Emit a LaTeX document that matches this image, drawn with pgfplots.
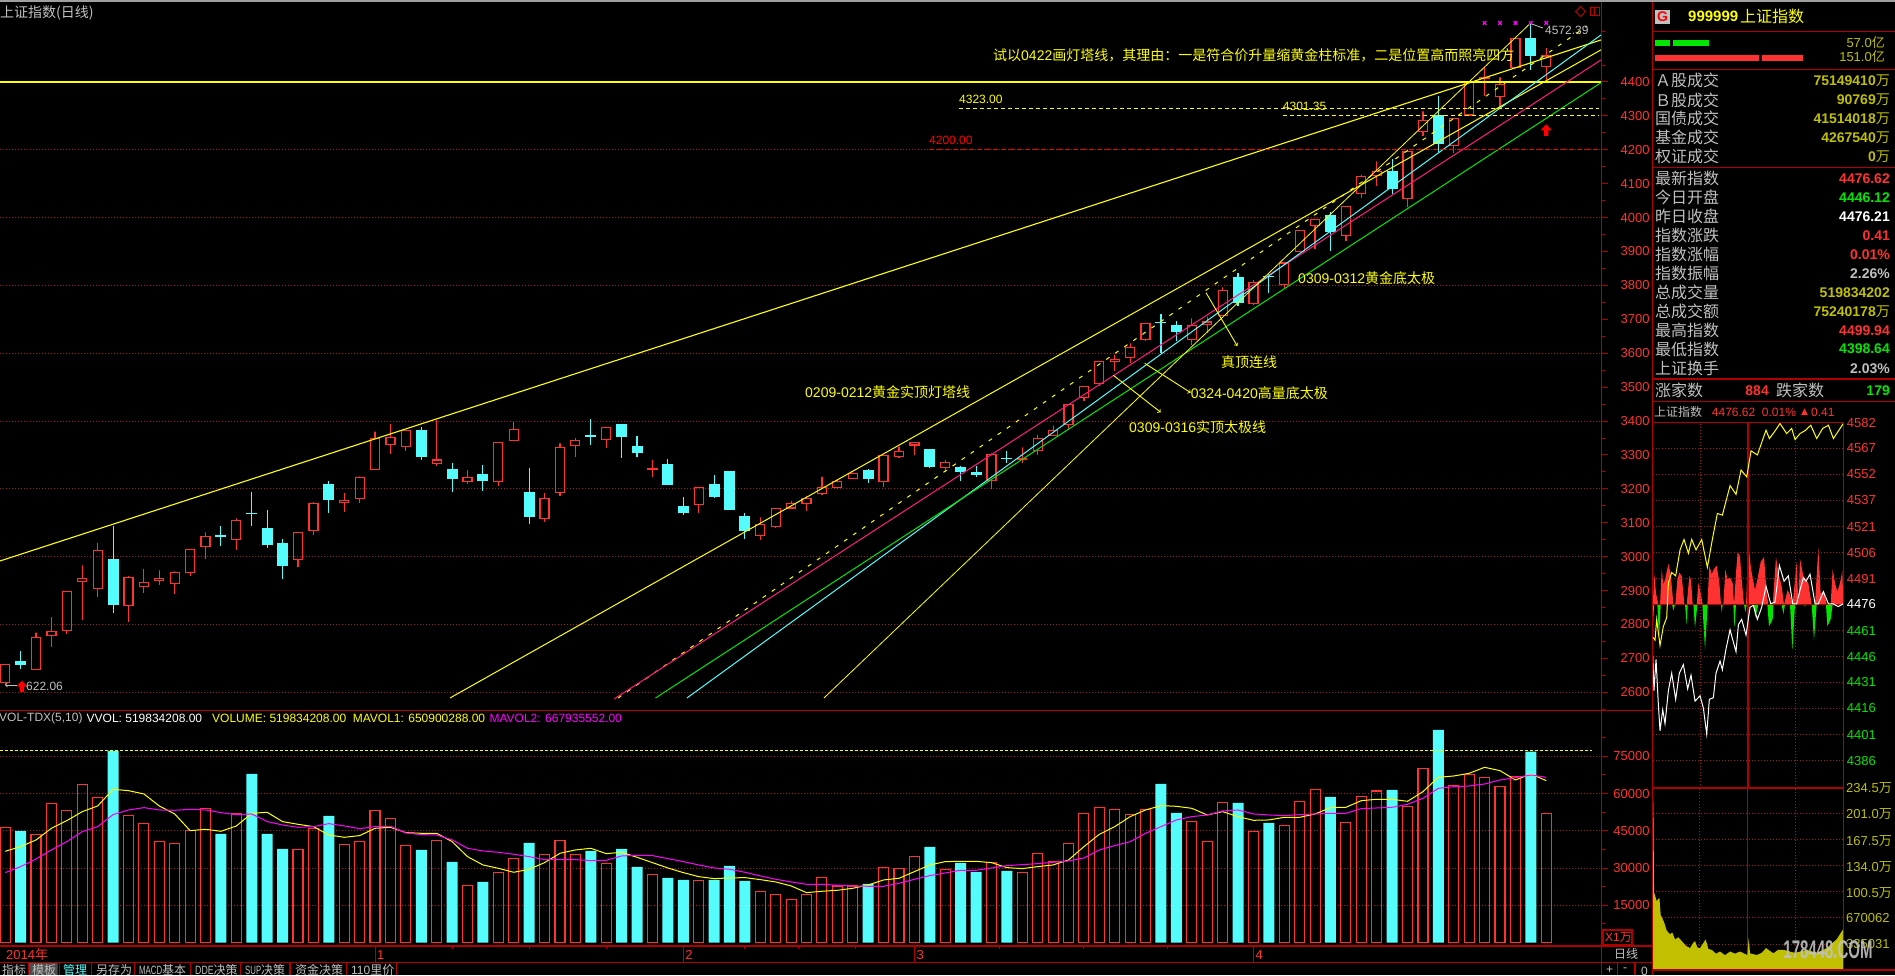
\documentclass[border=0pt]{standalone}
\usepackage{fontspec}
\usepackage{pgfplots}
\usepackage{pgfplotstable}
\pgfplotsset{compat=1.18}
\setmainfont{Liberation Sans}
\newfontfamily\cjk{Noto Sans CJK SC}
\newfontfamily\symb{DejaVu Sans}

\definecolor{upc}{HTML}{FF3232}
\definecolor{cy}{HTML}{54FCFC}
\definecolor{yl}{HTML}{FFFF00}
\definecolor{mg}{HTML}{FF00FF}
\definecolor{ol}{HTML}{C0C000}
\definecolor{gr}{HTML}{00E600}
\definecolor{pk}{HTML}{FF1A80}
\definecolor{framec}{HTML}{B00000}
\definecolor{gridc}{HTML}{A81818}
\definecolor{wg}{HTML}{C0C0C0}

\pgfdeclareplotmark{redarrow}{%
  \pgfpathmoveto{\pgfqpoint{0pt}{6.5pt}}
  \pgfpathlineto{\pgfqpoint{5.5pt}{0.5pt}}
  \pgfpathlineto{\pgfqpoint{2.2pt}{0.5pt}}
  \pgfpathlineto{\pgfqpoint{2.2pt}{-5pt}}
  \pgfpathlineto{\pgfqpoint{-2.2pt}{-5pt}}
  \pgfpathlineto{\pgfqpoint{-2.2pt}{0.5pt}}
  \pgfpathlineto{\pgfqpoint{-5.5pt}{0.5pt}}
  \pgfpathclose\pgfusepathqfill}

\pgfplotsset{
  tick13/.style={tick label style={font=\fontsize{13}{13}\selectfont,text=upc}},
  panel/.style={scale only axis, axis line style={draw=none}, tick style={framec,line width=1pt},
    scaled ticks=false, tick align=outside, major tick length=6pt, minor tick length=3pt,
    /pgf/number format/.cd, fixed, 1000 sep={}, assume math mode=true},
  griddots/.style={major grid style={gridc,line width=.8pt,dash pattern=on 1pt off 2pt}},
}

% candle: i, open, high, low, close
\newcommand\up[5]{%
  \pgfmathsetmacro\xa{#1-.292}\pgfmathsetmacro\xb{#1+.292}%
  \addplot[upc,line width=1.2pt,no markers,miter limit=2] coordinates {(#1,#4)(#1,#2)(\xa,#2)(\xa,#5)(#1,#5)(#1,#3)(#1,#5)(\xb,#5)(\xb,#2)(#1,#2)};}
\newcommand\dn[5]{%
  \pgfmathsetmacro\xa{#1-.357}\pgfmathsetmacro\xb{#1+.357}%
  \addplot[cy,line width=1.1pt,no markers] coordinates {(#1,#4)(#1,#3)};%
  \addplot[fill=cy,draw=none,no markers] coordinates {(\xa,#2)(\xb,#2)(\xb,#5)(\xa,#5)};}

% volume, i and value
\pgfplotstableread{
i v
0 46433
2 43615
3 56096
4 53277
5 63745
6 58511
8 51264
9 48044
10 40797
11 39992
12 45225
13 54083
15 51801
19 37576
20 46031
22 39589
23 40797
24 53277
25 50057
26 39186
28 41199
30 23082
32 28316
33 33953
35 35563
36 41199
37 35563
39 31940
42 27511
45 25095
49 20667
50 19459
51 17446
52 19459
53 26303
54 22814
55 22814
57 30329
58 29927
59 34758
61 29524
64 32342
66 28316
67 35966
68 32745
69 39992
70 52070
71 54485
72 53680
73 51667
74 53680
77 48849
78 40797
79 56498
81 44823
83 47238
84 56901
85 61732
87 48446
88 58914
89 61061
91 54888
92 70187
94 63342
95 67771
96 66563
97 62940
98 66832
100 52070
}\upvol
\pgfplotstableread{
i v
1 44957
7 77165
14 43749
16 67905
17 43749
18 37710
21 50996
27 37308
29 32476
31 24424
34 40126
38 36905
40 37710
41 30463
43 26035
44 25230
46 25230
47 30866
48 24827
56 23619
60 38515
62 32074
63 28450
65 28853
75 63879
76 52204
80 56230
82 48178
86 58645
90 61464
93 85620
99 76897
}\dnvol

\begin{document}
\begin{tikzpicture}
\useasboundingbox (0pt,0pt) rectangle (1895pt,975pt);
\fill[black] (0pt,0pt) rectangle (1895pt,975pt);
\clip (0pt,0pt) rectangle (1895pt,975pt);

% price panel
\begin{axis}[panel,tick13,griddots,at={(0pt,265pt)},anchor=south west,width=1601.7pt,height=707pt,
  xmin=-.3375,xmax=103.6,ymin=2547.8,ymax=4633,xtick=\empty,
  ytick pos=right,ytick={2600,2800,...,4400},ymajorgrids,
  extra y ticks={2700,2900,...,4300},extra y tick style={grid=none},
  minor ytick={2550,2650,...,4550},
  yticklabel style={anchor=east,inner sep=0pt,xshift=42pt}]
\up{0}{2628.4}{2682.5}{2622}{2682.5}
\dn{1}{2692.3}{2721.8}{2669.7}{2680.5}
\up{2}{2667.7}{2775.9}{2667.7}{2762.1}
\up{3}{2767}{2822}{2734.6}{2779.8}
\up{4}{2782.8}{2897.8}{2773}{2897.8}
\up{5}{2926.3}{2974.5}{2813.2}{2936.1}
\up{6}{2905.6}{3040.3}{2881.1}{3018.7}
\dn{7}{2993.1}{3091.4}{2834.9}{2857.5}
\up{8}{2855.5}{2943}{2808.3}{2939}
\up{9}{2911.5}{2963.6}{2893.8}{2924.3}
\up{10}{2929.2}{2959.7}{2917.4}{2936.1}
\up{11}{2920.4}{2956.8}{2890.9}{2953.8}
\up{12}{2952.8}{3021.6}{2944}{3021.6}
\up{13}{3029.5}{3071.8}{2993.1}{3060}
\dn{14}{3063.9}{3090.4}{3031.5}{3058}
\up{15}{3050.1}{3113.1}{3019.7}{3107.2}
\dn{16}{3129.8}{3190.7}{3090.4}{3125.8}
\dn{17}{3084.5}{3137.6}{3026.5}{3034.4}
\dn{18}{3040.3}{3052.1}{2934.1}{2972.5}
\up{19}{2991.2}{3071.8}{2970.5}{3071.8}
\up{20}{3076.7}{3161.2}{3063.9}{3157.3}
\dn{21}{3214.3}{3223.1}{3128.8}{3167.1}
\up{22}{3159.3}{3187.8}{3131.7}{3166.1}
\up{23}{3171.1}{3236.9}{3158.3}{3234}
\up{24}{3256.6}{3368.6}{3256.6}{3349}
\up{25}{3330.3}{3391.2}{3302.8}{3351.9}
\up{26}{3324.4}{3373.6}{3311.6}{3372.6}
\dn{27}{3373.6}{3382.4}{3285.1}{3293.9}
\up{28}{3274.3}{3403}{3267.4}{3285.1}
\dn{29}{3258.5}{3275.3}{3190.7}{3229}
\up{30}{3221.2}{3255.6}{3214.3}{3234}
\dn{31}{3243.8}{3270.3}{3193.7}{3223.1}
\up{32}{3221.2}{3337.2}{3208.4}{3337.2}
\up{33}{3342.1}{3397.1}{3342.1}{3375.5}
\dn{34}{3190.7}{3261.5}{3096.3}{3117}
\up{35}{3112.1}{3187.8}{3102.2}{3172}
\up{36}{3188.7}{3334.2}{3179.9}{3322.4}
\up{37}{3327.3}{3350}{3293.9}{3343.1}
\dn{38}{3357.8}{3406}{3329.3}{3353.9}
\up{39}{3345}{3381.4}{3320.5}{3381.4}
\dn{40}{3391.2}{3391.2}{3291}{3352.9}
\dn{41}{3326.5}{3356}{3295}{3305.8}
\up{42}{3256.7}{3285.2}{3236}{3260.6}
\dn{43}{3273.4}{3288.1}{3212.4}{3212.4}
\dn{44}{3149.5}{3175.1}{3123}{3128.9}
\up{45}{3153.5}{3204.6}{3129.9}{3204.6}
\dn{46}{3214.4}{3240}{3173.1}{3176}
\dn{47}{3252.7}{3252.7}{3137.7}{3137.7}
\dn{48}{3120}{3128.9}{3053.2}{3075.8}
\up{49}{3062}{3116.1}{3050}{3095.5}
\up{50}{3088.6}{3142.6}{3086.6}{3142.6}
\up{51}{3143.6}{3164.3}{3143.6}{3157.4}
\up{52}{3157.4}{3179}{3135.8}{3172.1}
\up{53}{3186.9}{3235}{3182}{3204.6}
\up{54}{3203.6}{3226.2}{3198.7}{3222.3}
\up{55}{3230.1}{3247.8}{3230.1}{3245.9}
\dn{56}{3255.7}{3259.6}{3218.3}{3229.1}
\up{57}{3221.3}{3300.9}{3204.6}{3298.9}
\up{58}{3295}{3324.5}{3292.1}{3310.7}
\up{59}{3329.4}{3336.3}{3300.9}{3336.3}
\dn{60}{3317.6}{3317.6}{3261.6}{3264.5}
\up{61}{3262.6}{3285.2}{3250.8}{3278.3}
\dn{62}{3264.5}{3267.5}{3224.2}{3250.8}
\dn{63}{3249.8}{3267.5}{3235}{3241.9}
\up{64}{3225.2}{3304.8}{3199.7}{3301.9}
\dn{65}{3291.1}{3310.7}{3276.3}{3288.1}
\up{66}{3287.1}{3322.5}{3276.3}{3290.1}
\up{67}{3312.7}{3358.9}{3299.9}{3349.1}
\up{68}{3357}{3387.4}{3357}{3372.7}
\up{69}{3389.4}{3449.3}{3376.6}{3449.3}
\up{70}{3470}{3502.4}{3460.2}{3502.4}
\up{71}{3510.3}{3576.1}{3503.4}{3576.1}
\up{72}{3576.1}{3595.8}{3546.7}{3582}
\up{73}{3587}{3629.2}{3570.3}{3617.4}
\up{74}{3640}{3688.2}{3638}{3688.2}
\dn{75}{3692.1}{3715.7}{3599.7}{3688.2}
\dn{76}{3683.3}{3694.1}{3637.1}{3662.6}
\up{77}{3640}{3703}{3624.3}{3682.3}
\up{78}{3685.3}{3707.9}{3658.7}{3692.1}
\up{79}{3711}{3794.4}{3711}{3785.5}
\dn{80}{3825}{3836}{3739}{3748}
\up{81}{3746}{3816}{3742}{3809}
\dn{82}{3828}{3836}{3779}{3826}
\up{83}{3802}{3866}{3793}{3866}
\up{84}{3901}{3963}{3901}{3963}
\up{85}{3977}{3995}{3906}{3995}
\dn{86}{4008}{4016}{3902}{3959}
\up{87}{3948}{4033}{3932}{4033}
\up{88}{4070.7}{4126}{4059}{4122}
\up{89}{4124.7}{4166}{4094}{4136.5}
\dn{90}{4136.5}{4174}{4070}{4084.4}
\up{91}{4056}{4195.5}{4030}{4195.5}
\up{92}{4253.5}{4313.5}{4241.7}{4287}
\dn{93}{4301.7}{4358.7}{4192.6}{4217}
\up{94}{4212}{4292.8}{4190.6}{4292.8}
\up{95}{4302.7}{4400}{4302.7}{4400}
\up{96}{4409.8}{4445}{4359.7}{4413.7}
\up{97}{4356.7}{4413.7}{4322}{4393}
\up{98}{4442}{4528.8}{4442}{4528.8}
\dn{99}{4529.7}{4572.39}{4435.4}{4477.6}
\up{100}{4446.12}{4499.94}{4398.64}{4476.62}
% drawn lines
\addplot[yl,line width=1.3pt] coordinates {(-.34,4400)(103.6,4400)};
\addplot[yl,line width=1.1pt] coordinates {(-.34,2987.3)(103.62,4525)};
\addplot[yl,line width=1pt] coordinates {(28.86,2583.2)(103.62,4496.4)};
\addplot[yl,line width=1pt,dash pattern=on 4pt off 7pt] coordinates {(39.77,2583.2)(102.65,4565.2)};
\addplot[pk,line width=1pt] coordinates {(39.51,2580.3)(103.55,4464.9)};
\addplot[cy,line width=1pt] coordinates {(44.24,2583.2)(103.55,4538.6)};
\addplot[gr,line width=1pt] coordinates {(42.2,2583.2)(103.55,4397.9)};
\addplot[yl,line width=.8pt] coordinates {(53.13,2583.2)(99.06,4577)};
\addplot[yl,line width=1pt,dash pattern=on 4pt off 3pt] coordinates {(61.9,4323)(103.4,4323)};
\addplot[yl,line width=1pt,dash pattern=on 4pt off 3pt] coordinates {(82.9,4301.35)(103.4,4301.35)};
\addplot[red,line width=1pt,dash pattern=on 5pt off 3pt] coordinates {(59.95,4200)(103.6,4200)};
\addplot[only marks,mark=x,mg,mark size=2.5pt,line width=1.2pt] coordinates {(96,4574)(97,4574)(98,4574)(99,4574)(100,4574)};
\addplot[only marks,mark=redarrow,red] coordinates {(100,4256)(1.09,2615)};
\end{axis}

% volume panel
\begin{axis}[panel,tick13,griddots,at={(0pt,29pt)},anchor=south west,width=1601.7pt,height=236pt,
  xmin=-.3375,xmax=103.6,ymin=-1369,ymax=93668,xtick=\empty,
  ytick pos=right,ytick={15000,30000,45000,60000,75000},ymajorgrids,
  minor ytick={7500,22500,37500,52500,67500,82500},
  yticklabel style={anchor=east,inner sep=0pt,xshift=42pt}]
\addplot[ybar,bar width=10pt,bar shift=0pt,draw=upc,fill=none,line width=1.1pt] table[x=i,y=v] {\upvol};
\addplot[ybar,bar width=11pt,bar shift=0pt,draw=none,fill=cy] table[x=i,y=v] {\dnvol};
\addplot[yl,line width=1pt,dash pattern=on 3pt off 2pt] coordinates {(-.34,77350)(103,77350)};
\addplot[yl,line width=1pt] coordinates {(0,36771)(1,38650)(2,41334)(3,46031)(4,49117)(5,52741)(6,55022)(7,61732)(8,61195)(9,59853)(10,55022)(11,51801)(12,45091)(13,45628)(14,44823)(15,46970)(16,52070)(17,52472)(18,48715)(19,47641)(20,46702)(21,43347)(22,42407)(23,43078)(24,46031)(25,46433)(26,44286)(27,44018)(28,44018)(29,40663)(30,34624)(31,31269)(32,29927)(33,28316)(34,29524)(35,32208)(36,35966)(37,37308)(38,37979)(39,35831)(40,36368)(41,34355)(42,32208)(43,30061)(44,28182)(45,26572)(46,25766)(47,26035)(48,26169)(49,25364)(50,24424)(51,22814)(52,20130)(53,20667)(54,21069)(55,21875)(56,23217)(57,25230)(58,25901)(59,28585)(60,31269)(61,32611)(62,32745)(63,32745)(64,32208)(65,30195)(66,29792)(67,30598)(68,31269)(69,33282)(70,38650)(71,43615)(72,46702)(73,50728)(74,53412)(75,55156)(76,54888)(77,54083)(78,51399)(79,52741)(80,50728)(81,49251)(82,49386)(83,50459)(84,50459)(85,51801)(86,54351)(87,54485)(88,57169)(89,57706)(90,57706)(91,56901)(92,60793)(93,66563)(94,67100)(95,68174)(96,70589)(97,69247)(98,65490)(99,67905)(100,65221)};
\addplot[mg,line width=1pt] coordinates {(0,28182)(1,30598)(2,33684)(3,37308)(4,40663)(5,44689)(6,46702)(7,51533)(8,53412)(9,54351)(10,53412)(11,53277)(12,53680)(13,53412)(14,52338)(15,51533)(16,51801)(17,48715)(18,47373)(19,46433)(20,46702)(21,47909)(22,46970)(23,45896)(24,46702)(25,46836)(26,44152)(27,43481)(28,43347)(29,41334)(30,37979)(31,36905)(32,36368)(33,35563)(34,34624)(35,33416)(36,33416)(37,33416)(38,33013)(39,33147)(40,34892)(41,35160)(42,35026)(43,33818)(44,32611)(45,31269)(46,30061)(47,29524)(48,28316)(49,26840)(50,25498)(51,24424)(52,23485)(53,23485)(54,23082)(55,22814)(56,22680)(57,22680)(58,23888)(59,25498)(60,26974)(61,28048)(62,29121)(63,29121)(64,30061)(65,31000)(66,31403)(67,31805)(68,32342)(69,32879)(70,34087)(71,37308)(72,39052)(73,40663)(74,44018)(75,46702)(76,49386)(77,50728)(78,51399)(79,53009)(80,53412)(81,51801)(82,51399)(83,51130)(84,51533)(85,51801)(86,52070)(87,52070)(88,53948)(89,54217)(90,54485)(91,55693)(92,58109)(93,62135)(94,62806)(95,63074)(96,63879)(97,65490)(98,66429)(99,67503)(100,66563)};
\end{axis}

% date strip under the volume panel
\begin{axis}[panel,at={(0pt,13pt)},anchor=south west,width=1601.7pt,height=16pt,
  xmin=-.3375,xmax=103.6,ymin=0,ymax=1,ytick=\empty,
  xtick pos=top,xticklabel pos=bottom,tick align=inside,
  major tick length=16pt,minor tick length=3pt,
  xtick={24,44,59,81},xticklabels={1,2,3,4},
  minor xtick={29,34,39,48,51.5,55.2,64.5,70,75.4},
  xticklabel style={font=\fontsize{13}{13}\selectfont,text=upc,anchor=west,inner sep=0pt,xshift=2pt,yshift=7pt}]
\end{axis}

% intraday strength bars
\begin{axis}[scale only axis,hide axis,at={(1652.7pt,187pt)},anchor=south west,width=190.6pt,height=365.7pt,
  xmin=38,xmax=610,ymin=-528,ymax=524]
\addplot[fill=upc,draw=none] coordinates {(38,0)(43,87)(48,32)(55,0)(60,0)(65,102)(70,57)(75,72)(85,117)(92,87)(100,2)(106,2)(112,72)(118,92)(125,82)(133,0)(140,0)(148,82)(153,72)(158,0)(170,0)(175,62)(182,32)(188,0)(202,0)(208,112)(215,87)(222,102)(230,112)(238,62)(243,0)(250,0)(256,102)(262,72)(270,77)(278,62)(282,0)(288,92)(293,152)(300,137)(305,72)(312,0)(318,0)(325,177)(333,102)(345,42)(352,72)(362,122)(372,137)(380,32)(385,0)(398,0)(408,137)(415,92)(425,52)(432,0)(443,42)(452,22)(458,0)(470,122)(475,0)(480,132)(490,82)(505,62)(515,0)(525,0)(535,164)(542,32)(552,37)(560,0)(572,0)(578,102)(585,62)(592,37)(600,62)(607,97)(610,0)} \closedcycle;
\addplot[fill=gr,draw=none] coordinates {(38,-78)(42,0)(52,0)(57,-98)(62,0)(96,0)(100,-18)(105,0)(135,0)(140,-58)(143,0)(160,0)(165,-68)(172,0)(187,0)(195,-130)(203,0)(243,0)(245,-23)(248,0)(280,0)(283,-68)(288,0)(312,0)(316,-23)(320,0)(340,0)(346,-38)(355,0)(382,0)(387,-63)(398,-43)(400,0)(425,0)(430,-28)(435,0)(450,0)(457,-133)(465,0)(493,0)(495,-8)(497,0)(515,0)(522,-103)(530,0)(558,0)(562,-63)(572,-43)(578,0)} \closedcycle;
\end{axis}

% intraday price
\begin{axis}[panel,griddots,at={(1652.7pt,187pt)},anchor=south west,width=190.6pt,height=365.7pt,
  xmin=0,xmax=240,ymin=4368.7,ymax=4582.5,
  major tick length=0pt,xmajorgrids,ymajorgrids,
  xtick={60,180},ytick={4567.2,4552,4536.8,4521.6,4506.4,4491.2,4460.8,4445.6,4430.4,4415.2,4400,4384.8},
  xticklabels={},yticklabels={}]
\addplot[framec,line width=1.1pt] coordinates {(0,4476)(240,4476)};
\addplot[framec,line width=1.1pt] coordinates {(120,4368.7)(120,4582.5)};
\addplot[white,line width=1pt] coordinates {(0,4445.9)(1.6,4425.6)(4.2,4443.9)(7.1,4417.5)(9.2,4402.2)(12.6,4414.4)(15.5,4406.3)(19.7,4425.6)(23.9,4435.8)(28.9,4420.5)(33.5,4435.8)(38.6,4440.8)(44,4426.6)(48.2,4434.7)(53.3,4419.5)(59.6,4422.6)(63.8,4415.4)(68,4400.2)(71.3,4420.5)(76.4,4421.5)(79.7,4435.8)(84.8,4442.9)(87.7,4437.8)(92.3,4450)(97.4,4461.2)(100.3,4456.1)(104.9,4448.4)(107.9,4464.2)(112,4467.3)(117.5,4458.1)(122.5,4474.4)(126.7,4475.4)(131.8,4467.3)(137.2,4474.4)(142.7,4486.6)(148.6,4476.4)(154,4477.4)(159.5,4498.8)(165.4,4489.6)(170.8,4492.7)(176.3,4476.4)(181.3,4476.4)(185.5,4484.5)(189.7,4491.6)(193.1,4489.6)(198.1,4493.7)(204.4,4476.4)(208.6,4476.4)(214.9,4483.5)(221.2,4476.4)(226.7,4476.4)(233.8,4474.8)(240,4476.4)};
\addplot[yl,line width=1pt] coordinates {(0,4457.1)(2.9,4455.1)(5,4467.3)(9.2,4452)(13.4,4463.2)(17.6,4468.3)(19.7,4488.6)(23.9,4494.7)(28.9,4492.7)(34.4,4507.9)(39.4,4514)(44.9,4505.9)(49.1,4514)(54.5,4507.9)(61.7,4514)(68.8,4497.7)(75.5,4515)(81.4,4529.2)(87.7,4528.2)(97.4,4545.5)(104.9,4540.4)(111.2,4554.6)(118.4,4550.6)(123.8,4565.8)(131.8,4563.4)(138.5,4572.4)(142.7,4577.9)(146.9,4573)(153.2,4576.9)(160.3,4581.8)(168.7,4575.9)(175,4578.9)(179.2,4572.4)(185.5,4575.9)(192.7,4577.9)(199,4580.8)(206.5,4573)(214,4578.9)(221.2,4580.8)(227.5,4573)(240,4581.8)};
\end{axis}

% intraday volume
\begin{axis}[panel,griddots,at={(1652.7pt,5pt)},anchor=south west,width=190.6pt,height=182pt,
  xmin=38,xmax=610,ymin=0,ymax=233.6,
  major tick length=0pt,xmajorgrids,ymajorgrids,
  xtick={178,466},ytick={33.5,67,100.5,134,167.5,201},
  xticklabels={},yticklabels={}]
\addplot[framec,line width=1.1pt] coordinates {(322,0)(322,233.6)};
\addplot[fill=ol,draw=none] coordinates {(38,214.9)(40,214.9)(42,99.6)(46,94)(50,88.4)(58,92.9)(62,70.6)(72,61.6)(76,56)(80,50.5)(90,46)(97,48)(105,39.3)(115,42)(125,37.1)(138,31)(150,28.1)(158,34)(165,37.1)(172,29)(180,28.1)(197,39.3)(205,27)(215,25.9)(228,21)(240,23.7)(255,19)(270,23.7)(285,21)(300,23.7)(322,19.2)(326,41.5)(330,21.4)(350,19.2)(365,22)(378,28.1)(400,21.4)(415,26)(430,25.9)(465,22)(500,25.9)(530,22)(560,28.1)(590,39.3)(610,52.7)} \closedcycle;
\end{axis}

% order book bars
\begin{axis}[scale only axis,hide axis,clip=false,at={(1655pt,914pt)},anchor=south west,width=148pt,height=21pt,
  xmin=0,xmax=151,ymin=0,ymax=2]
\addplot[gr,line width=5.7pt] coordinates {(0,1.71)(15.3,1.71)};
\addplot[gr,line width=5.7pt] coordinates {(18.4,1.71)(55.2,1.71)};
\addplot[upc,line width=5.7pt] coordinates {(0,.29)(106,.29)};
\addplot[upc,line width=5.7pt] coordinates {(109,.29)(151,.29)};
\end{axis}

\begin{scope}[shift={(0pt,975pt)},x=1pt,y=-1pt]
\fill[gray!75] (0,0) rectangle (1895,2);
% frame
\begin{scope}[framec,line width=1.2pt]
\draw (0,710.3)--(1652.7,710.3);
\draw (0,946)--(1652.7,946);
\draw (0,962.3)--(1652.7,962.3);
\draw (1601.7,2)--(1601.7,975);
\draw[line width=1.5pt] (1652.7,2)--(1652.7,975);
\draw (1652.7,31.7)--(1895,31.7);
\draw (1652.7,69.3)--(1895,69.3);
\draw (1652.7,167.3)--(1895,167.3);
\draw (1652.7,379)--(1895,379);
\draw (1652.7,401.3)--(1895,401.3);
\draw (1652.7,422.3)--(1843.3,422.3);
\draw (1652.7,788)--(1843.3,788);
\draw (1652.7,970)--(1895,970);
\draw (1843.3,422.3)--(1843.3,970);
\foreach \x in {28.6,57,59.6,91.4,134.7,190.6,240.8,290,346.5,396.7,1617.7,1635} \draw (\x,962.3)--(\x,975);
\draw (1603,930) rectangle (1632,944.5);
\end{scope}
% annotations
\tikzset{note/.style={anchor=west,inner sep=0pt,text=yl,font=\fontsize{14}{14}\selectfont},
  small/.style={anchor=west,inner sep=0pt,font=\fontsize{12}{12}\selectfont}}
\node[note] at (993,55) {{\cjk 试以}0422{\cjk 画灯塔线，其理由：一是符合价升量缩黄金柱标准，二是位置高而照亮四方}};
\node[note] at (805,391.7) {0209-0212{\cjk 黄金实顶灯塔线}};
\node[note] at (1190.7,392.7) {0324-0420{\cjk 高量底太极}};
\node[note] at (1129,426.7) {0309-0316{\cjk 实顶太极线}};
\node[note] at (1221,362) {\cjk 真顶连线};
\node[note] at (1298,278) {0309-0312{\cjk 黄金底太极}};
\draw[yl,->,line width=.9pt] (1206,292.7)--(1237.3,346);
\draw[yl,->,line width=.9pt] (1144.7,363.3)--(1190.7,392.7);
\draw[yl,->,line width=.9pt] (1113.3,375.3)--(1160.7,412.3);
\node[small,text=yl] at (959,99) {4323.00};
\node[small,text=yl] at (1282.7,106) {4301.35};
\node[small,text=red] at (929,140) {4200.00};
\node[small,text=wg] at (1545,30.7) {4572.39};
\draw[wg,line width=.8pt] (1531.7,24)--(1543,28);
\node[small,text=wg] at (26,686.7) {622.06};
\draw[wg,->,line width=.8pt] (17,685)--(5,685);
\draw[framec!80!red,line width=.8pt] (1580.5,6.5)--(1585.5,11.5)--(1580.5,16.5)--(1575.5,11.5)--cycle;
\draw[framec!80!red,line width=.8pt] (1590,7) rectangle (1599,15.5) (1594.5,7)--(1594.5,15.5);
\node[anchor=west,inner sep=0pt,text=wg,font=\cjk\fontsize{14}{14}\selectfont] at (0,12.5) {上证指数(日线)};
% volume header
\node[small,text=wg] at (-1,718) {VOL-TDX(5,10)};
\node[small,text=white] at (86.5,718) {VVOL: 519834208.00};
\node[small,text=yl] at (212,718) {VOLUME: 519834208.00};
\node[small,text=yl] at (352.6,718) {MAVOL1: 650900288.00};
\node[small,text=mg] at (489.4,718) {MAVOL2: 667935552.00};
% date strip and tabs
\node[anchor=west,inner sep=0pt,text=upc,font=\fontsize{13}{13}\selectfont] at (6,955) {2014{\cjk 年}};
\fill[gray!60!black] (29,963) rectangle (57,975);
\tikzset{tab/.style={anchor=west,inner sep=0pt,text=wg,font=\fontsize{12}{12}\selectfont}}
\node[tab] at (2,970) {\cjk 指标};
\node[tab] at (32,970) {\cjk 模板};
\node[tab,text=cy] at (63,970) {\cjk 管理};
\node[tab] at (96,970) {\cjk 另存为};
\node[tab] at (139,970) {\scalebox{.65}[1]{MACD}{\cjk 基本}};
\node[tab] at (195,970) {\scalebox{.73}[1]{DDE}{\cjk 决策}};
\node[tab] at (245,970) {\scalebox{.65}[1]{SUP}{\cjk 决策}};
\node[tab] at (295,970) {\cjk 资金决策};
\node[tab] at (351,970) {110{\cjk 里价}};
\node[tab,text=upc] at (1605,937) {X1{\cjk 万}};
\node[tab] at (1614,954) {\cjk 日线};
\node[tab] at (1606,970) {+};
\node[tab] at (1623,970) {-};
\node[tab] at (1641,971) {0};
% quote panel
\fill[wg] (1655,10) rectangle (1670,24);
\node[text=red,font=\bfseries\fontsize{14}{14}\selectfont,inner sep=0pt] at (1662.5,17) {G};
\node[anchor=west,inner sep=0pt,text=yl,font=\bfseries\fontsize{15}{15}\selectfont] at (1688,16) {999999};
\node[anchor=west,inner sep=0pt,text=yl,font=\cjk\fontsize{16}{16}\selectfont] at (1740,16) {上证指数};
\node[anchor=east,inner sep=0pt,text=ol,font=\fontsize{13}{13}\selectfont] at (1885,42.3) {57.0{\cjk 亿}};
\node[anchor=east,inner sep=0pt,text=ol,font=\fontsize{13}{13}\selectfont] at (1885,56.7) {151.0{\cjk 亿}};
\tikzset{lab/.style={anchor=west,inner sep=0pt,text=wg,font=\cjk\fontsize{16}{16}\selectfont},
  val/.style={anchor=east,inner sep=0pt,font=\bfseries\fontsize{14}{14}\selectfont}}
\newcommand\rowv[4]{\node[lab] at (1655,#1) {#2}; \node[val,text=#4] at (1890,#1) {#3};}
\newcommand\wan{{\cjk\mdseries 万}}
\rowv{80.7}{Ａ股成交}{75149410\wan}{ol}
\rowv{100}{Ｂ股成交}{90769\wan}{ol}
\rowv{118.7}{国债成交}{41514018\wan}{ol}
\rowv{137.7}{基金成交}{4267540\wan}{ol}
\rowv{156.7}{权证成交}{0\wan}{ol}
\rowv{178.3}{最新指数}{4476.62}{upc}
\rowv{197.3}{今日开盘}{4446.12}{gr}
\rowv{216.7}{昨日收盘}{4476.21}{white}
\rowv{235.7}{指数涨跌}{0.41}{upc}
\rowv{254.3}{指数涨幅}{0.01\%}{upc}
\rowv{273.3}{指数振幅}{2.26\%}{wg}
\rowv{292.7}{总成交量}{519834202}{ol}
\rowv{311.7}{总成交额}{75240178\wan}{ol}
\rowv{330.3}{最高指数}{4499.94}{upc}
\rowv{349}{最低指数}{4398.64}{gr}
\rowv{368.3}{上证换手}{2.03\%}{wg}
\node[lab] at (1655,390.7) {涨家数};
\node[val,text=upc] at (1769,390.7) {884};
\node[lab] at (1776,390.7) {跌家数};
\node[val,text=gr] at (1890,390.7) {179};
\node[anchor=west,inner sep=0pt,text=wg,font=\cjk\fontsize{12}{12}\selectfont] at (1654,412) {上证指数};
\node[small,text=upc,font=\fontsize{12}{12}\selectfont] at (1711.7,412) {4476.62 \ 0.01\%};
\node[anchor=west,inner sep=0pt,text=upc,font={\symb\fontsize{9}{9}\selectfont}] at (1801,412) {▲};
\node[small,text=upc] at (1811,412) {0.41};
\foreach \y/\t/\c in {422.7/4582/upc,448/4567/upc,474.5/4552/upc,500.5/4537/upc,526.7/4521/upc,552.7/4506/upc,578.7/4491/upc,604.4/4476/white,630.6/4461/gr,656.6/4446/gr,682.4/4431/gr,708.4/4416/gr,734.6/4401/gr,760.6/4386/gr}
  \node[anchor=west,inner sep=0pt,text=\c,font=\fontsize{13}{13}\selectfont] at (1846.7,\y) {\t};
\foreach \y/\t in {788.3/234.5{\cjk 万},814.5/201.0{\cjk 万},840.7/167.5{\cjk 万},866.9/134.0{\cjk 万},893/100.5{\cjk 万},918.4/670062,944.4/335031}
  \node[anchor=west,inner sep=0pt,text=ol,font=\fontsize{13}{13}\selectfont] at (1846,\y) {\t};
\node[anchor=center,inner sep=0pt,text=wg,opacity=.9,yscale=1.7,transform shape,font=\bfseries\fontsize{15}{15}\selectfont] at (1828,950) {178448.COM};
\end{scope}
\end{tikzpicture}
\end{document}
